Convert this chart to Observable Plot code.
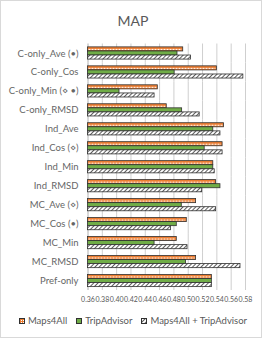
<!DOCTYPE html>
<html><head><meta charset="utf-8">
<script src="https://cdn.jsdelivr.net/npm/d3@7"></script>
<script src="https://cdn.jsdelivr.net/npm/@observablehq/plot@0.6"></script>
<style>
body{margin:0;background:#fff;font-family:Lato,"Open Sans",sans-serif;}
#wrap{position:relative;width:266px;height:340px;overflow:hidden;background:#fff;}
#frame{position:absolute;left:0;top:0;width:262px;height:338px;border:1px solid #d9d9d9;box-sizing:border-box;}
#title{position:absolute;left:0;width:266px;top:12px;text-align:center;font-size:14px;color:#595959;}
#chart{position:absolute;left:0;top:0;}
#chart svg{overflow:visible;}
#chart g[aria-label^="x-axis"] text{font-size:7px;}
#chart g[aria-label^="fy-axis"] text{fill:#666;}
#legend{position:absolute;top:315px;left:0;width:266px;display:flex;justify-content:center;align-items:center;font-size:9.5px;color:#595959;white-space:nowrap;}
#legend .item{display:flex;align-items:center;margin:0 4.5px;}
#legend svg{margin-right:3px;}
</style></head>
<body>
<svg width="0" height="0" style="position:absolute">
<defs>
<pattern id="hatch" patternUnits="userSpaceOnUse" width="3" height="3" patternTransform="rotate(45)">
<rect width="3" height="3" fill="#fff"/>
<line x1="0" y1="0" x2="0" y2="3" stroke="#404040" stroke-width="1.7"/>
</pattern>
<pattern id="dots" patternUnits="userSpaceOnUse" width="2" height="2">
<rect width="2" height="2" fill="#ED7D31"/>
<rect width="1" height="1" fill="#fff"/>
</pattern>
</defs></svg>
<div id="wrap">
<div id="frame"></div>
<div id="title">MAP</div>
<div id="chart"></div>
<div id="legend"></div>
</div>
<script>
const categories = ["C-only_Ave (•)", "C-only_Cos", "C-only_Min (⋄ •)", "C-only_RMSD", "Ind_Ave", "Ind_Cos (⋄)", "Ind_Min", "Ind_RMSD", "MC_Ave (⋄)", "MC_Cos (•)", "MC_Min", "MC_RMSD", "Pref-only"];
const series = ["Maps4All", "TripAdvisor", "Maps4All + TripAdvisor"];
const maps4all    = [0.493, 0.540, 0.4575, 0.470, 0.550, 0.548, 0.535, 0.539, 0.511, 0.498, 0.484, 0.511, 0.533];
const tripAdvisor = [0.485, 0.481, 0.404, 0.4915, 0.535, 0.523, 0.535, 0.545, 0.491, 0.484, 0.453, 0.497, 0.533];
const combined    = [0.504, 0.577, 0.453, 0.516, 0.545, 0.548, 0.537, 0.5195, 0.539, 0.476, 0.499, 0.573, 0.533];
const xTicks = [0.36, 0.38, 0.40, 0.42, 0.44, 0.46, 0.48, 0.50, 0.52, 0.54, 0.56, 0.58];
const seriesFills = ["#ED7D31", "#70AD47", "url(#hatch)"];

const values = [maps4all, tripAdvisor, combined];
const rows = [];
categories.forEach((c, i) => series.forEach((s, j) => rows.push({category: c, series: s, value: values[j][i]})));
const xMin = xTicks[0], xMax = xTicks[xTicks.length - 1];

const chart = Plot.plot({
  width: 266, height: 340,
  marginLeft: 87.5, marginRight: 21, marginTop: 43.5, marginBottom: 50,
  style: {fontFamily: "Lato, 'Open Sans', sans-serif", fontSize: "9.5px", color: "#595959", background: "transparent"},
  x: {domain: [xMin, xMax], ticks: xTicks, tickFormat: d3.format(".2f"), tickSize: 0, tickPadding: 6.5, label: null},
  y: {domain: series, axis: null, paddingInner: 0, paddingOuter: 0.83, round: false},
  fy: {domain: categories, padding: 0, round: false, label: null, tickSize: 0, tickPadding: 9.5},
  color: {domain: series, range: seriesFills},
  facet: {data: rows, y: "category"},
  marks: [
    Plot.ruleX(xTicks.slice(1), {stroke: "#cfcfcf", strokeWidth: 1}),
    Plot.ruleX([xMin], {stroke: "#b0b0b0", strokeWidth: 1}),
    Plot.barX(rows, {y: "series", x1: () => xMin, x2: "value", fill: "series", stroke: "#303030", strokeWidth: 0.8}),
    Plot.ruleY(rows, {filter: d => d.series === series[0], y: "series", x1: () => xMin, x2: "value", stroke: "#fff", strokeWidth: 1, strokeDasharray: "2,1", insetLeft: 1, insetRight: 1})
  ]
});
document.getElementById("chart").appendChild(chart);

const legend = document.getElementById("legend");
const swatchFills = ["url(#dots)", "#70AD47", "url(#hatch)"];
series.forEach((s, j) => {
  const item = document.createElement("div");
  item.className = "item";
  item.innerHTML = `<svg width="6" height="6"><rect x="0.5" y="0.5" width="5" height="5" fill="${swatchFills[j]}" stroke="#303030" stroke-width="1"/></svg><span>${s}</span>`;
  legend.appendChild(item);
});
</script>
</body></html>
